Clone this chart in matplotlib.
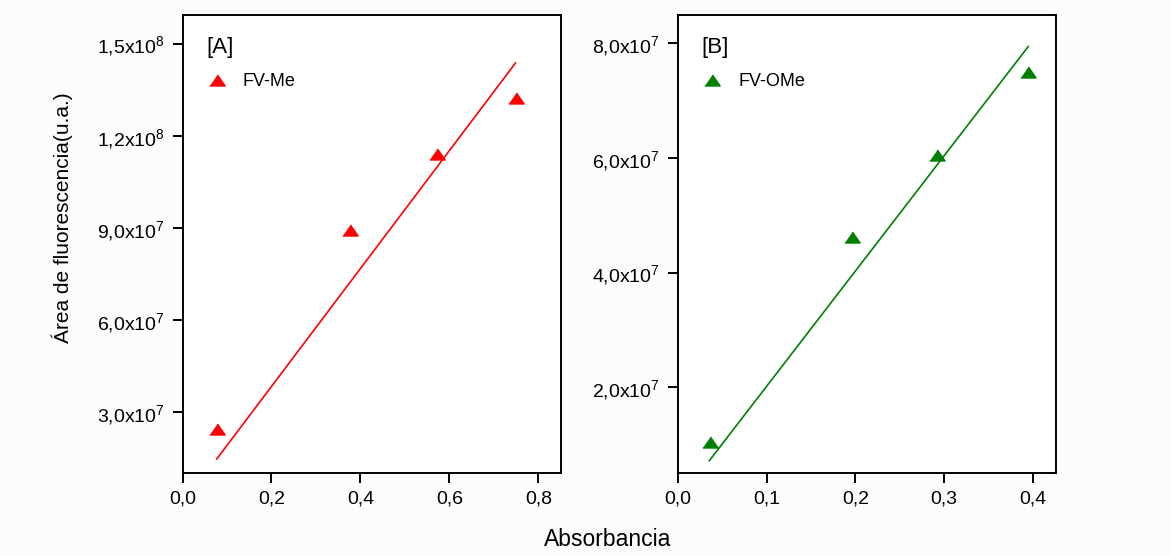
import numpy as np
import matplotlib
matplotlib.use('Agg')
import matplotlib.pyplot as plt
from matplotlib.ticker import FixedLocator, FixedFormatter

plt.rcParams['font.family'] = ['Liberation Sans', 'DejaVu Sans']
plt.rcParams['mathtext.default'] = 'regular'

# panel A: FV-Me
abs_me = [0.077, 0.377, 0.573, 0.749]
area_me = [2.45e7, 8.92e7, 1.140e8, 1.322e8]
fit_me_x = [0.077, 0.749]
fit_me_y = [1.466e7, 1.438e8]
yticks_me = [3e7, 6e7, 9e7, 1.2e8, 1.5e8]
ylabels_me = ['3,0x10$^{7}$', '6,0x10$^{7}$', '9,0x10$^{7}$', '1,2x10$^{8}$', '1,5x10$^{8}$']
xticks_me = [0.0, 0.2, 0.4, 0.6, 0.8]
xlabels_me = ['0,0', '0,2', '0,4', '0,6', '0,8']

# panel B: FV-OMe
abs_ome = [0.0358, 0.196, 0.2916, 0.3947]
area_ome = [1.048e7, 4.62e7, 6.05e7, 7.505e7]
fit_ome_x = [0.0353, 0.3947]
fit_ome_y = [0.722e7, 7.94e7]
yticks_ome = [2e7, 4e7, 6e7, 8e7]
ylabels_ome = ['2,0x10$^{7}$', '4,0x10$^{7}$', '6,0x10$^{7}$', '8,0x10$^{7}$']
xticks_ome = [0.0, 0.1, 0.2, 0.3, 0.4]
xlabels_ome = ['0,0', '0,1', '0,2', '0,3', '0,4']

W, H = 1170, 556
fig = plt.figure(figsize=(W / 100, H / 100), dpi=100, facecolor='#fcfcfc')

tri = [(-1, -0.72), (1, -0.72), (0, 0.72)]


def panel(left, xs, ys, fx, fy, color, xt, xl, yt, yl, xlim, ylim, tag, name):
	ax = fig.add_axes([left / W, 1 - 472.7 / H, 378 / W, 457.7 / H])
	ax.set_facecolor('white')
	ax.plot(fx, fy, color=color, lw=1.2, zorder=2)
	ax.plot(xs, ys, ls='none', marker=tri, ms=11, color=color, mec=color, label=name, zorder=3)
	ax.set_xlim(*xlim)
	ax.set_ylim(*ylim)
	ax.xaxis.set_major_locator(FixedLocator(xt))
	ax.xaxis.set_major_formatter(FixedFormatter(xl))
	ax.yaxis.set_major_locator(FixedLocator(yt))
	ax.yaxis.set_major_formatter(FixedFormatter(yl))
	ax.tick_params(direction='out', length=7, width=1.4, labelsize=14, pad=6, top=False, right=False)
	for s in ax.spines.values():
		s.set_linewidth(1.4)
	ax.text(0.062, 0.928, tag, transform=ax.transAxes, fontsize=16, va='center', ha='left')
	ax.legend(loc='center left', bbox_to_anchor=(0.062, 0.854), frameon=False, fontsize=13,
		handlelength=1.2, handletextpad=0.85, borderpad=0, borderaxespad=0)
	return ax


panel(182.5, abs_me, area_me, fit_me_x, fit_me_y, '#ff0000', xticks_me, xlabels_me,
	yticks_me, ylabels_me, (0, 0.85), (1.02e7, 1.594e8), '[A]', 'FV-Me')
panel(678, abs_ome, area_ome, fit_ome_x, fit_ome_y, '#008000', xticks_ome, xlabels_ome,
	yticks_ome, ylabels_ome, (0, 0.426), (0.513e7, 8.49e7), '[B]', 'FV-OMe')

fig.text(62 / W, 1 - 218 / H, 'Área de fluorescencia(u.a.)', rotation=90, fontsize=15,
	ha='center', va='center')
fig.text(608 / W, 1 - 540 / H, 'Absorbancia', fontsize=16.5, ha='center', va='center')

fig.savefig('out.png', dpi=100, facecolor=fig.get_facecolor())
